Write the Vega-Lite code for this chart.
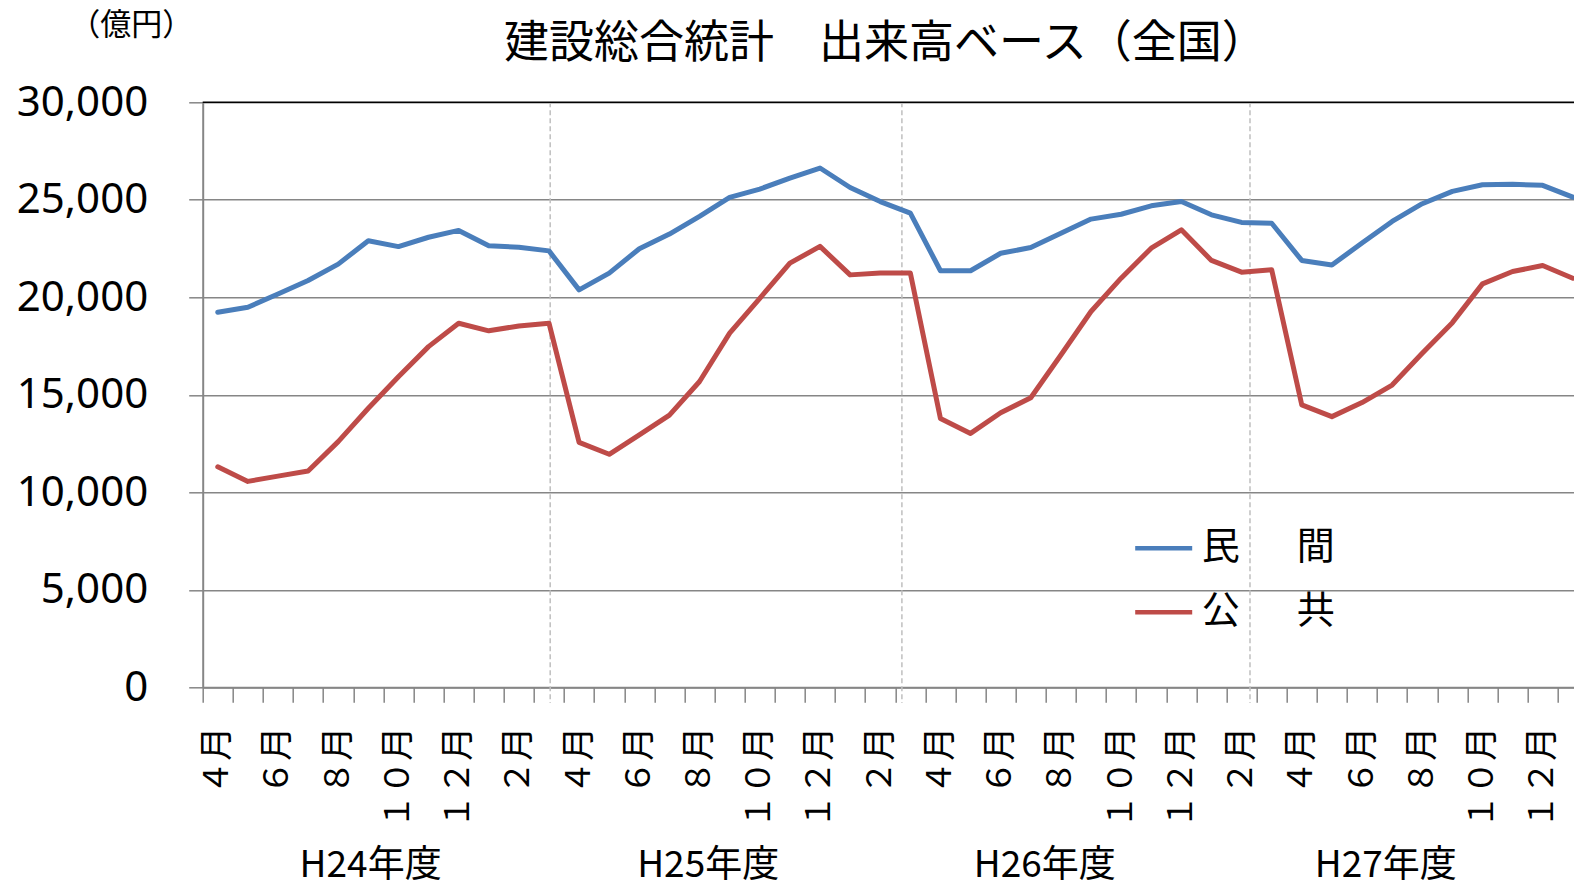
{
  "$schema": "https://vega.github.io/schema/vega-lite/v6.json",
  "width": 1371.3,
  "height": 585,
  "autosize": {"type": "none"},
  "padding": {"left": 202.7, "top": 102.3, "right": 0, "bottom": 205.7},
  "background": "white",
  "title": {
    "text": "建設総合統計　出来高ベース（全国）",
    "font": "Noto Sans CJK JP",
    "fontSize": 45,
    "fontWeight": "normal",
    "color": "black",
    "anchor": "middle",
    "frame": "group",
    "offset": 0,
    "dx": -3,
    "dy": 58
  },
  "datasets": {
    "series": [
      {"i": 0, "民間": 19230, "公共": 11310},
      {"i": 1, "民間": 19490, "公共": 10560},
      {"i": 2, "民間": 20170, "公共": 10830},
      {"i": 3, "民間": 20860, "公共": 11090},
      {"i": 4, "民間": 21700, "公共": 12600},
      {"i": 5, "民間": 22900, "公共": 14310},
      {"i": 6, "民間": 22600, "公共": 15930},
      {"i": 7, "民間": 23080, "公共": 17470},
      {"i": 8, "民間": 23430, "公共": 18670},
      {"i": 9, "民間": 22640, "公共": 18280},
      {"i": 10, "民間": 22570, "公共": 18530},
      {"i": 11, "民間": 22380, "公共": 18670},
      {"i": 12, "民間": 20380, "公共": 12560},
      {"i": 13, "民間": 21240, "公共": 11950},
      {"i": 14, "民間": 22490, "公共": 12940},
      {"i": 15, "民間": 23240, "公共": 13960},
      {"i": 16, "民間": 24150, "公共": 15680},
      {"i": 17, "民間": 25120, "公共": 18160},
      {"i": 18, "民間": 25550, "公共": 19950},
      {"i": 19, "民間": 26110, "公共": 21750},
      {"i": 20, "民間": 26630, "公共": 22610},
      {"i": 21, "民間": 25630, "公共": 21150},
      {"i": 22, "民間": 24910, "公共": 21250},
      {"i": 23, "民間": 24320, "公共": 21250},
      {"i": 24, "民間": 21360, "公共": 13790},
      {"i": 25, "民間": 21360, "公共": 13020},
      {"i": 26, "民間": 22260, "公共": 14080},
      {"i": 27, "民間": 22550, "公共": 14850},
      {"i": 28, "民間": 23290, "公共": 17040},
      {"i": 29, "民間": 24010, "公共": 19270},
      {"i": 30, "民間": 24260, "公共": 20980},
      {"i": 31, "民間": 24690, "公共": 22520},
      {"i": 32, "民間": 24910, "公共": 23460},
      {"i": 33, "民間": 24230, "公共": 21890},
      {"i": 34, "民間": 23840, "公共": 21290},
      {"i": 35, "民間": 23800, "公共": 21410},
      {"i": 36, "民間": 21890, "公共": 14480},
      {"i": 37, "民間": 21660, "公共": 13880},
      {"i": 38, "民間": 22780, "公共": 14600},
      {"i": 39, "民間": 23890, "公共": 15500},
      {"i": 40, "民間": 24800, "公共": 17130},
      {"i": 41, "民間": 25430, "公共": 18700},
      {"i": 42, "民間": 25770, "公共": 20690},
      {"i": 43, "民間": 25800, "公共": 21320},
      {"i": 44, "民間": 25740, "公共": 21630},
      {"i": 45, "民間": 25140, "公共": 20980}
    ],
    "bounds": [
      {"pos": 11.04},
      {"pos": 22.72},
      {"pos": 34.28}
    ],
    "top": [
      {"v": 30000}
    ]
  },
  "layer": [
    {
      "data": {"name": "bounds"},
      "mark": {"type": "rule", "color": "#bfbfbf", "strokeWidth": 1.5, "strokeDash": [5, 3], "clip": false},
      "encoding": {
        "x": {
          "field": "pos",
          "type": "quantitative",
          "scale": {"domain": [-0.5, 45.04], "nice": false, "zero": false},
          "axis": {
            "orient": "bottom",
            "values": [5.06, 16.27, 27.45, 38.77],
            "labelExpr": "datum.value < 10 ? 'H24年度' : datum.value < 20 ? 'H25年度' : datum.value < 30 ? 'H26年度' : 'H27年度'",
            "domain": false,
            "ticks": false,
            "tickSize": 0,
            "grid": false,
            "labelAngle": 0,
            "labelFont": "Noto Sans CJK JP",
            "labelFontSize": 37,
            "labelColor": "black",
            "labelPadding": 160,
            "labelLimit": 0,
            "labelOverlap": false,
            "labelFlush": false,
            "labelBound": false,
            "title": null
          }
        },
        "y": {"datum": 30000, "type": "quantitative"},
        "y2": {"datum": -805}
      }
    },
    {
      "data": {"name": "series"},
      "transform": [{"fold": ["民間", "公共"], "as": ["series", "value"]}],
      "mark": {"type": "line", "strokeWidth": 5, "strokeJoin": "round", "strokeCap": "round", "clip": true},
      "encoding": {
        "x": {
          "field": "i",
          "type": "quantitative",
          "scale": {"domain": [-0.5, 45.04], "nice": false, "zero": false},
          "axis": {
            "orient": "bottom",
            "values": [-0.5,0,0.5,1,1.5,2,2.5,3,3.5,4,4.5,5,5.5,6,6.5,7,7.5,8,8.5,9,9.5,10,10.5,11,11.5,12,12.5,13,13.5,14,14.5,15,15.5,16,16.5,17,17.5,18,18.5,19,19.5,20,20.5,21,21.5,22,22.5,23,23.5,24,24.5,25,25.5,26,26.5,27,27.5,28,28.5,29,29.5,30,30.5,31,31.5,32,32.5,33,33.5,34,34.5,35,35.5,36,36.5,37,37.5,38,38.5,39,39.5,40,40.5,41,41.5,42,42.5,43,43.5,44,44.5],
            "labelExpr": "datum.value % 1 === 0 ? ['４月','','６月','','８月','','１０月','','１２月','','２月',''][datum.value % 12] : ''",
            "domainColor": "#868686",
            "domainWidth": 2,
            "tickColor": "#868686",
            "tickWidth": 1.5,
            "tickSize": 15,
            "tickOpacity": {"condition": {"test": "datum.value % 1 !== 0", "value": 1}, "value": 0},
            "grid": false,
            "labelAngle": -90,
            "labelFont": "Noto Sans CJK JP",
            "labelFontSize": 34,
            "labelColor": "black",
            "labelPadding": 24,
            "labelLimit": 0,
            "labelOverlap": false,
            "labelFlush": false,
            "labelBound": false,
            "title": null
          }
        },
        "y": {
          "field": "value",
          "type": "quantitative",
          "scale": {"domain": [0, 30000], "nice": false},
          "axis": {
            "values": [0, 5000, 10000, 15000, 20000, 25000, 30000],
            "labelExpr": "format(datum.value, ',')",
            "grid": true,
            "gridColor": "#868686",
            "gridWidth": 1.5,
            "domainColor": "#868686",
            "domainWidth": 2,
            "tickColor": "#868686",
            "tickWidth": 1.5,
            "tickSize": 14,
            "labelFont": "Noto Sans",
            "labelFontSize": 42,
            "labelColor": "black",
            "labelPadding": 41,
            "title": "（億円）",
            "titleFont": "Noto Sans CJK JP",
            "titleFontSize": 31,
            "titleFontWeight": "normal",
            "titleColor": "black",
            "titleAngle": 0,
            "titleAlign": "center",
            "titleBaseline": "middle",
            "titleX": -72,
            "titleY": -77
          }
        },
        "color": {
          "field": "series",
          "type": "nominal",
          "scale": {"domain": ["民間", "公共"], "range": ["#4A7EBB", "#BE4B48"]},
          "legend": {
            "orient": "none",
            "legendX": 930,
            "legendY": 415,
            "title": null,
            "padding": 0,
            "symbolType": "stroke",
            "symbolSize": 3249,
            "symbolStrokeWidth": 4.5,
            "labelFont": "Noto Sans CJK JP",
            "labelFontSize": 38,
            "labelColor": "black",
            "labelOffset": 7,
            "rowPadding": 14,
            "labelExpr": "substring(datum.label, 0, 1) + '　\u2002' + substring(datum.label, 1, 2)"
          }
        }
      }
    },
    {
      "data": {"name": "top"},
      "mark": {"type": "rule", "color": "black", "strokeWidth": 1.5},
      "encoding": {"y": {"field": "v", "type": "quantitative"}}
    }
  ],
  "resolve": {"axis": {"x": "independent"}},
  "config": {"view": {"stroke": null}}
}
